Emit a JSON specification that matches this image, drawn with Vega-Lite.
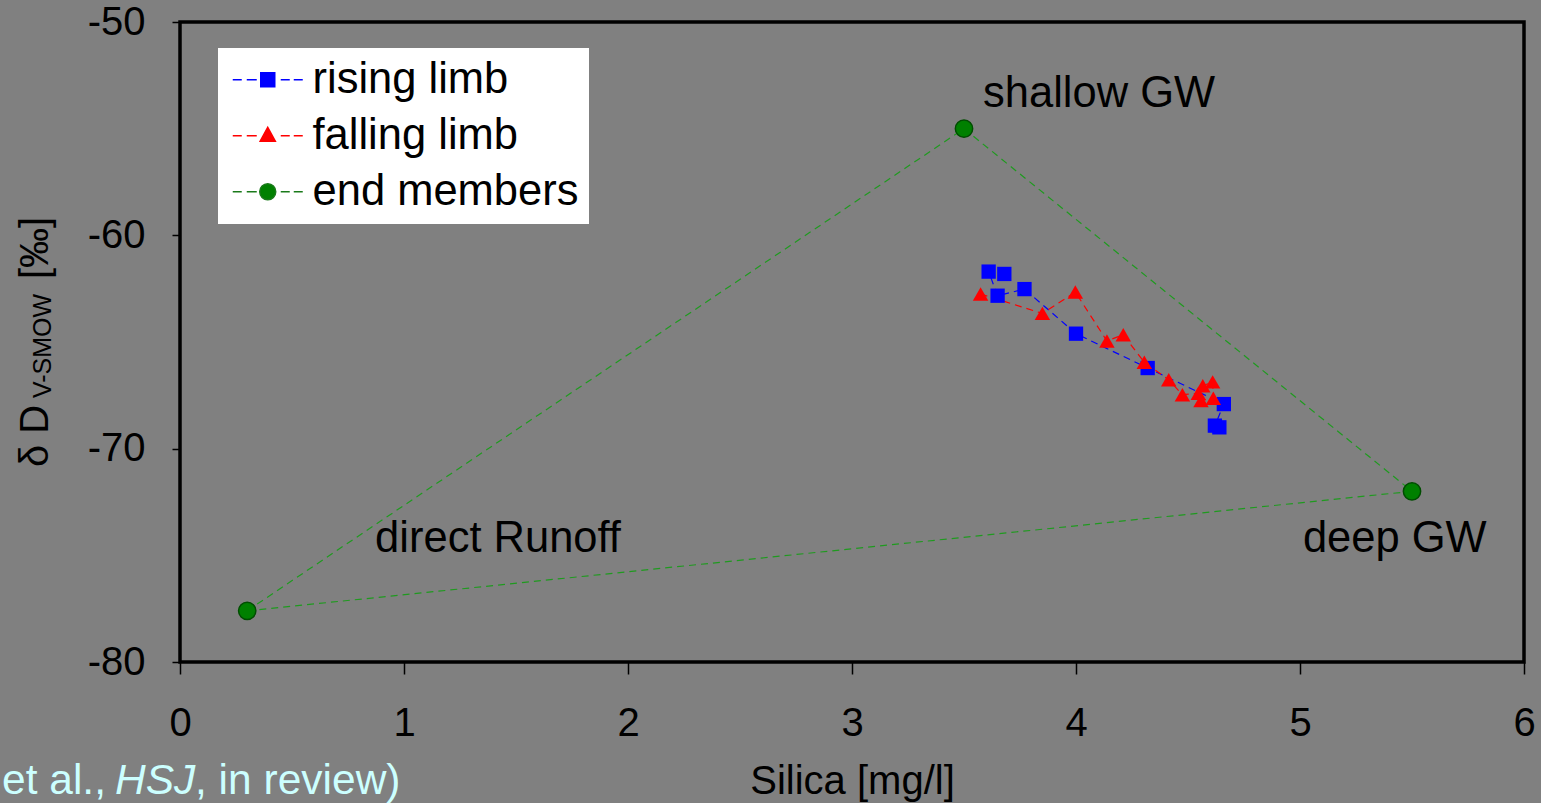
{
  "$schema": "https://vega.github.io/schema/vega-lite/v6.json",
  "width": 1344,
  "height": 640,
  "autosize": {"type": "none"},
  "padding": {"left": 180, "top": 22, "right": 17, "bottom": 141},
  "background": "#808080",
  "config": {
    "font": "Liberation Sans",
    "view": {"stroke": "#000000", "strokeWidth": 3.5, "fill": "#808080"},
    "axis": {
      "grid": false, "domain": false, "tickColor": "#000000", "tickWidth": 1.5, "labelFlush": false,
      "labelFont": "Liberation Sans", "labelFontSize": 40, "labelColor": "#000000",
      "titleFont": "Liberation Sans", "titleFontSize": 40, "titleColor": "#000000", "titleFontWeight": "normal"
    },
    "legend": {
      "title": null, "orient": "none", "legendX": 38, "legendY": 26,
      "fillColor": "#ffffff", "padding": 10, "rowPadding": 11,
      "labelFont": "Liberation Sans", "labelFontSize": 43.5, "labelColor": "#000000", "labelOffset": 23, "labelLimit": 0,
      "symbolSize": 1600, "symbolOffset": 18, "symbolStrokeWidth": 1.5, "symbolOpacity": 1
    },
    "text": {"font": "Liberation Sans"}
  },
  "datasets": {
    "pts": [
      {"series": "rising limb", "seq": 1, "silica": 4.64, "dD": -69.0, "marker": true},
      {"series": "rising limb", "seq": 2, "silica": 4.62, "dD": -68.92, "marker": true},
      {"series": "rising limb", "seq": 3, "silica": 4.66, "dD": -67.91, "marker": true},
      {"series": "rising limb", "seq": 4, "silica": 4.32, "dD": -66.22, "marker": true},
      {"series": "rising limb", "seq": 5, "silica": 4.0, "dD": -64.61, "marker": true},
      {"series": "rising limb", "seq": 6, "silica": 3.77, "dD": -62.52, "marker": true},
      {"series": "rising limb", "seq": 7, "silica": 3.65, "dD": -62.83, "marker": true},
      {"series": "rising limb", "seq": 8, "silica": 3.61, "dD": -61.7, "marker": true},
      {"series": "rising limb", "seq": 9, "silica": 3.68, "dD": -61.81, "marker": true},
      {"series": "falling limb", "seq": 1, "silica": 3.574, "dD": -62.75, "marker": true},
      {"series": "falling limb", "seq": 2, "silica": 3.85, "dD": -63.66, "marker": true},
      {"series": "falling limb", "seq": 3, "silica": 3.997, "dD": -62.66, "marker": true},
      {"series": "falling limb", "seq": 4, "silica": 4.138, "dD": -64.95, "marker": true},
      {"series": "falling limb", "seq": 5, "silica": 4.211, "dD": -64.66, "marker": true},
      {"series": "falling limb", "seq": 6, "silica": 4.305, "dD": -65.95, "marker": true},
      {"series": "falling limb", "seq": 7, "silica": 4.414, "dD": -66.77, "marker": true},
      {"series": "falling limb", "seq": 8, "silica": 4.475, "dD": -67.47, "marker": true},
      {"series": "falling limb", "seq": 9, "silica": 4.546, "dD": -67.41, "marker": true},
      {"series": "falling limb", "seq": 10, "silica": 4.566, "dD": -67.05, "marker": true},
      {"series": "falling limb", "seq": 11, "silica": 4.61, "dD": -66.87, "marker": true},
      {"series": "falling limb", "seq": 12, "silica": 4.613, "dD": -67.64, "marker": true},
      {"series": "falling limb", "seq": 13, "silica": 4.558, "dD": -67.75, "marker": true},
      {"series": "end members", "seq": 1, "silica": 0.3, "dD": -77.6, "marker": true},
      {"series": "end members", "seq": 2, "silica": 3.5, "dD": -55.0, "marker": true},
      {"series": "end members", "seq": 3, "silica": 5.5, "dD": -72.0, "marker": true},
      {"series": "end members", "seq": 4, "silica": 0.3, "dD": -77.6, "marker": false}
    ],
    "labels": [
      {"name": "shallow GW", "silica": 3.585, "dD": -53.98},
      {"name": "direct Runoff", "silica": 0.871, "dD": -74.83},
      {"name": "deep GW", "silica": 5.013, "dD": -74.83}
    ]
  },
  "layer": [
    {
      "data": {"name": "pts"},
      "transform": [{"filter": "datum.series === 'end members'"}],
      "mark": {"type": "line", "strokeDash": [7, 5], "strokeWidth": 1.2, "color": "#1f9a1f"},
      "encoding": {
        "x": {"field": "silica", "type": "quantitative", "title": "Silica [mg/l]",
          "scale": {"domain": [0, 6], "nice": false, "zero": false},
          "axis": {"values": [0, 1, 2, 3, 4, 5, 6], "tickSize": 12, "labelPadding": 29, "titlePadding": 18, "labelExpr": "'' + datum.value"}},
        "y": {"field": "dD", "type": "quantitative", "title": null,
          "scale": {"domain": [-80, -50], "nice": false, "zero": false},
          "axis": {"values": [-80, -70, -60, -50], "tickSize": 8, "labelPadding": 27, "labelExpr": "'' + datum.value"}},
        "order": {"field": "seq", "type": "quantitative"}
      }
    },
    {
      "data": {"name": "pts"},
      "transform": [{"filter": "datum.series === 'rising limb'"}],
      "mark": {"type": "line", "strokeDash": [7, 5], "strokeWidth": 1.2, "color": "#0000ff"},
      "encoding": {
        "x": {"field": "silica", "type": "quantitative", "title": "Silica [mg/l]"},
        "y": {"field": "dD", "type": "quantitative", "title": null},
        "order": {"field": "seq", "type": "quantitative"}
      }
    },
    {
      "data": {"name": "pts"},
      "transform": [{"filter": "datum.series === 'falling limb'"}],
      "mark": {"type": "line", "strokeDash": [7, 5], "strokeWidth": 1.2, "color": "#ff0000"},
      "encoding": {
        "x": {"field": "silica", "type": "quantitative", "title": "Silica [mg/l]"},
        "y": {"field": "dD", "type": "quantitative", "title": null},
        "order": {"field": "seq", "type": "quantitative"}
      }
    },
    {
      "data": {"name": "pts"},
      "transform": [{"filter": "datum.series === 'rising limb'"}],
      "mark": {"type": "point", "filled": true, "opacity": 1, "strokeWidth": 0, "shape": "square", "size": 205, "color": "#0000ff"},
      "encoding": {
        "x": {"field": "silica", "type": "quantitative", "title": "Silica [mg/l]"},
        "y": {"field": "dD", "type": "quantitative", "title": null}
      }
    },
    {
      "data": {"name": "pts"},
      "transform": [{"filter": "datum.series === 'falling limb'"}],
      "mark": {"type": "point", "filled": true, "opacity": 1, "strokeWidth": 0, "shape": "triangle-up", "size": 240, "color": "#ff0000"},
      "encoding": {
        "x": {"field": "silica", "type": "quantitative", "title": "Silica [mg/l]"},
        "y": {"field": "dD", "type": "quantitative", "title": null}
      }
    },
    {
      "data": {"name": "pts"},
      "transform": [{"filter": "datum.marker && datum.series === 'end members'"}],
      "mark": {"type": "point", "filled": true, "opacity": 1, "shape": "circle", "size": 300, "fill": "#008000", "stroke": "#004d00", "strokeWidth": 1.5},
      "encoding": {
        "x": {"field": "silica", "type": "quantitative", "title": "Silica [mg/l]"},
        "y": {"field": "dD", "type": "quantitative", "title": null}
      }
    },
    {
      "data": {"name": "pts"},
      "transform": [{"filter": "false"}],
      "mark": {"type": "point", "filled": true, "opacity": 1, "strokeWidth": 1.5, "size": 1600},
      "encoding": {
        "x": {"field": "silica", "type": "quantitative", "title": "Silica [mg/l]"},
        "y": {"field": "dD", "type": "quantitative", "title": null},
        "shape": {"field": "series", "type": "nominal",
          "scale": {"domain": ["rising limb", "falling limb", "end members"],
            "range": [
              "M-1.75,0H-1.3M-1.05,0H-0.55M0.65,0H1.1M1.3,0H1.75M-0.35,-0.35H0.35V0.35H-0.35Z",
              "M-1.75,0H-1.3M-1.05,0H-0.55M0.65,0H1.1M1.3,0H1.75M0,-0.42L0.38,0.28L-0.38,0.28Z",
              "M-1.75,0H-1.3M-1.05,0H-0.55M0.65,0H1.1M1.3,0H1.75M-0.4,0A0.4,0.4,0,1,0,0.4,0A0.4,0.4,0,1,0,-0.4,0Z"
            ]}},
        "color": {"field": "series", "type": "nominal",
          "scale": {"domain": ["rising limb", "falling limb", "end members"], "range": ["#0000ff", "#ff0000", "#008000"]}},
        "stroke": {"field": "series", "type": "nominal",
          "scale": {"domain": ["rising limb", "falling limb", "end members"], "range": ["#0000ff", "#ff0000", "#1a7a1a"]}}
      }
    },
    {
      "data": {"name": "labels"},
      "mark": {"type": "text", "align": "left", "baseline": "alphabetic", "fontSize": 43.5, "color": "#000000"},
      "encoding": {
        "x": {"field": "silica", "type": "quantitative", "title": "Silica [mg/l]"},
        "y": {"field": "dD", "type": "quantitative", "title": null},
        "text": {"field": "name"}
      }
    },
    {
      "data": {"values": [{}]},
      "mark": {"type": "text", "text": "δ D", "angle": 270, "align": "left", "baseline": "alphabetic", "fontSize": 40, "color": "#000000"},
      "encoding": {"x": {"datum": -0.589, "type": "quantitative"}, "y": {"datum": -70.86, "type": "quantitative"}}
    },
    {
      "data": {"values": [{}]},
      "mark": {"type": "text", "text": "V-SMOW", "angle": 270, "align": "left", "baseline": "alphabetic", "fontSize": 25, "color": "#000000"},
      "encoding": {"x": {"datum": -0.575, "type": "quantitative"}, "y": {"datum": -67.625, "type": "quantitative"}}
    },
    {
      "data": {"values": [{}]},
      "mark": {"type": "text", "text": "[‰]", "angle": 270, "align": "left", "baseline": "alphabetic", "fontSize": 40, "color": "#000000"},
      "encoding": {"x": {"datum": -0.589, "type": "quantitative"}, "y": {"datum": -62.05, "type": "quantitative"}}
    },
    {
      "data": {"values": [{}]},
      "mark": {"type": "text", "text": "et al., ", "align": "left", "baseline": "alphabetic", "fontSize": 42.5, "color": "#ccffff"},
      "encoding": {"x": {"datum": -0.7946, "type": "quantitative"}, "y": {"datum": -86.2, "type": "quantitative"}}
    },
    {
      "data": {"values": [{}]},
      "mark": {"type": "text", "text": "HSJ", "align": "left", "baseline": "alphabetic", "fontSize": 42.5, "fontStyle": "italic", "color": "#ccffff"},
      "encoding": {"x": {"datum": -0.2902, "type": "quantitative"}, "y": {"datum": -86.2, "type": "quantitative"}}
    },
    {
      "data": {"values": [{}]},
      "mark": {"type": "text", "text": ", in review)", "align": "left", "baseline": "alphabetic", "fontSize": 42.5, "color": "#ccffff"},
      "encoding": {"x": {"datum": 0.067, "type": "quantitative"}, "y": {"datum": -86.2, "type": "quantitative"}}
    }
  ]
}
